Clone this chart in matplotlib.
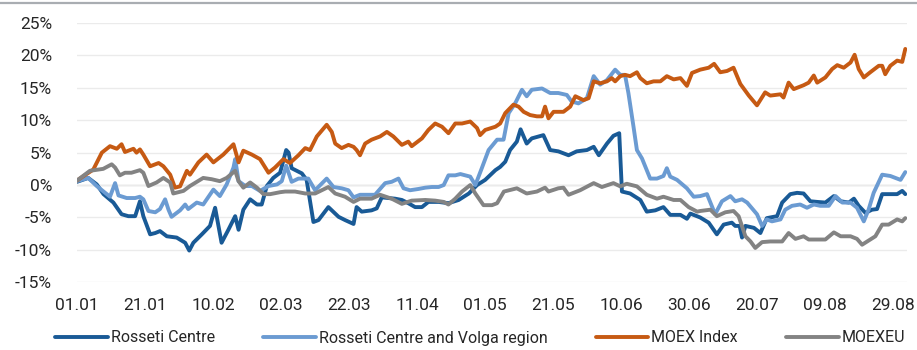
"""Rosseti Centre vs peers: cumulative price change since 01.01 (line chart)."""
import matplotlib

matplotlib.use("Agg")
import matplotlib.pyplot as plt  # noqa: E402
import matplotlib.dates as mdates  # noqa: E402
import pandas as pd  # noqa: E402
from matplotlib.lines import Line2D  # noqa: E402
from matplotlib.ticker import PercentFormatter  # noqa: E402

START = "2019-01-01"

# days since 01.01 / change in %
rc_days = [0, 3.3, 5.8, 7.8, 10.7, 13.1, 15.1, 17.1, 18.5, 19.5, 21.5, 23, 24.4, 26.4, 29.3,
           31.8, 33, 34.2, 36.7, 39.1, 40.6, 42.5, 44.5, 46.5, 47.5, 48.9, 50.9, 52.9, 54.3,
           55.8, 57.7, 59.7, 61.5, 62.2, 63.1, 66.1, 67.5, 69.5, 71, 73.9, 76.9, 78.8, 81.3,
           82.2, 83.7, 86.6, 88.1, 89.6, 93.5, 95.5, 97.4, 99.4, 101.4, 103.3, 106.3, 109.2,
           112.2, 115.2, 117.6, 120, 123, 124.4, 125.9, 127.3, 129.3, 130.4, 132.2, 133.7,
           137.1, 139.1, 141.5, 144.5, 146.9, 149.9, 151.9, 153.4, 155.8, 157.7, 159.4, 160.2,
           162.6, 165.6, 167.5, 170, 172.4, 174.4, 177.4, 179.3, 180.3, 183.2, 185.7, 188.1,
           190.1, 192.5, 193.5, 194.8, 195.5, 196.5, 199, 200.9, 202.8, 205.8, 207.3, 209.7,
           211.7, 213.6, 215.6, 217.6, 220, 222.5, 224.5, 226.9, 228.4, 229.8, 231.8, 233.7,
           235.2, 236.7, 239.1, 241.1, 242.6, 243.5]
rc_vals = [0.5, 1.1, 0.1, -1.4, -2.7, -4.5, -4.8, -4.8, -2.5, -4.8, -7.6, -7.4, -7.1, -7.9, -8.1,
           -8.9, -10.1, -8.9, -7.6, -6.3, -3.5, -8.9, -6.9, -4.8, -6.9, -3.8, -2.2, -3.0, -3.0,
           -0.15, 1.1, 1.9, 5.4, 5.0, 2.6, 1.8, 0.8, -5.7, -5.4, -3.4, -4.9, -5.4, -6.0,
           -3.4, -4.1, -3.9, -3.6, -1.9, -2.1, -2.3, -2.8, -3.4, -3.4, -2.6, -2.6, -2.8,
           -2.3, -1.3, 0.0, 0.8, 2.3, 2.8, 3.6, 5.4, 6.7, 8.6, 6.4, 7.2,
           7.7, 5.4, 5.2, 4.6, 5.2, 5.4, 5.9, 4.6, 6.4, 7.6, 8.0, -1.0,
           -1.3, -2.3, -4.1, -3.9, -3.4, -4.6, -4.6, -5.2, -4.4, -5.0, -5.8, -7.6,
           -6.1, -5.8, -6.3, -6.3, -8.1, -6.3, -6.6, -7.4, -5.1, -4.8, -2.7, -1.4,
           -1.2, -1.3, -2.5, -2.6, -2.7, -1.7, -2.5, -2.7, -2.1, -3.2, -4.3, -3.8,
           -3.7, -1.4, -1.4, -1.4, -0.9, -1.4]

rcv_days = [0, 3.3, 5.8, 9.7, 11.2, 12.2, 14.6, 17.1, 18.5, 19.5, 21, 23, 24.4, 25.9, 26.9,
            27.8, 30.3, 31.8, 32.7, 35.2, 37.1, 40.1, 42, 44, 46, 46.5, 47.5, 49.5, 51.4, 53.8,
            56.3, 58.8, 60.2, 61.5, 63.1, 65.1, 68, 70, 73.4, 75.4, 77.8, 79.8, 81.3, 83.2,
            85.7, 87.6, 90.6, 92.5, 94.5, 96, 97.9, 100.4, 102.4, 104.3, 106.3, 107.8, 109.2,
            111.2, 112.7, 115.6, 117.1, 119, 121, 123.5, 125.4, 126.9, 128.8, 130.8, 132.2,
            133.7, 136.7, 139.1, 141.5, 144, 145.4, 147.4, 149.9, 151.9, 153.8, 155.8, 158.2,
            159.7, 161.1, 162.1, 163.6, 164.6, 166.1, 168.5, 170.5, 172.4, 173.4, 174.4, 176.4,
            179.3, 181.3, 183.2, 185.2, 187.6, 189.6, 192.1, 193.5, 195.5, 197, 199.9, 201.4,
            202.8, 204.3, 206.8, 208.2, 210.2, 212.6, 214.6, 216.6, 218.5, 221, 223, 225,
            227.4, 229.3, 231.3, 232.7, 234.2, 236.7, 239.1, 242.1, 243.5]
rcv_vals = [0.6, 1.1, -0.15, -1.8, 0.3, -1.6, -2.0, -2.0, -1.8, -2.2, -4.0, -4.2, -3.7, -2.2, -3.8,
            -4.9, -3.9, -3.0, -3.7, -2.7, -3.0, -0.7, -1.7, 0.1, 2.7, 4.0, 0.6, -0.15, -0.15, -0.9,
            -0.15, 0.1, 0.6, 3.0, 0.5, 1.0, 1.0, -0.8, 1.0, -0.3, -0.5, -0.8, -1.9, -1.5,
            -1.5, -1.5, 0.3, 0.5, 1.0, -0.5, -0.8, -0.6, -0.4, -0.3, -0.3, 0.0, 1.5,
            1.5, 1.7, 1.3, 0.0, 2.6, 5.4, 7.0, 7.0, 11.1, 12.6, 14.7, 13.7,
            14.7, 14.9, 14.2, 14.2, 13.9, 12.9, 12.6, 13.4, 16.8, 15.5, 16.2, 17.8,
            17.0, 17.0, 14.2, 9.0, 5.4, 4.1, 1.0, 1.0, 1.4, 2.6, 1.3, 0.8,
            -0.5, -1.8, -1.7, -1.4, -4.5, -2.5, -1.7, -2.5, -2.2, -2.7, -4.5, -6.3,
            -5.3, -5.6, -5.3, -3.8, -3.2, -3.0, -3.5, -3.0, -3.2, -3.2, -1.7, -2.7,
            -2.7, -3.5, -5.6, -3.8, -1.2, 1.6, 1.4, 0.8, 2.0]

moex_days = [0, 4.8, 7.3, 9.7, 11.7, 13.1, 14.1, 16.6, 17.5, 18.5, 19.5, 21.5, 24, 25.4, 27.4,
             28.8, 30.3, 32.3, 33.2, 35.7, 38.1, 40.1, 43, 46, 47.5, 48.9, 51.4, 53.8, 56.3,
             58.2, 60.7, 62.6, 65.1, 67.1, 68.5, 70.5, 73.4, 74.9, 75.9, 77.8, 79.8, 81.3, 82.2,
             83.2, 84.7, 86.6, 89.1, 91.1, 93, 95.5, 97.4, 98.4, 101.4, 103.3, 105.3, 107.3,
             109.2, 111.2, 113.2, 115.6, 117.6, 118.5, 120, 123, 124.4, 125.9, 128.3, 129.8,
             131.3, 133.2, 135.2, 136.7, 137.6, 138.6, 140.1, 143, 145, 146.5, 148.9, 150.4,
             151.9, 153.8, 155.8, 157.2, 158.2, 159.7, 161.1, 162.6, 164.6, 165.6, 167.5, 169.5,
             171.5, 173.4, 175.4, 177.4, 179.3, 180.8, 183.2, 185.7, 187.3, 189.1, 191.1, 193,
             195, 197.5, 199.9, 202.3, 203.8, 206.8, 207.7, 209.2, 210.7, 213.6, 215.1, 216.6,
             217.6, 220, 222, 223.5, 225.4, 227.4, 228.6, 229.8, 231.3, 233.2, 235.7, 236.7,
             237.6, 239.1, 241.1, 242.6, 243.5]
moex_vals = [0.7, 2.4, 5.0, 6.0, 5.6, 6.3, 5.1, 5.6, 5.0, 5.5, 4.7, 2.9, 3.4, 2.9, 1.6,
             -0.4, -0.2, 2.2, 1.6, 3.5, 4.7, 3.5, 4.7, 6.3, 3.5, 5.3, 4.7, 4.0, 1.9,
             2.7, 4.0, 3.4, 4.6, 5.7, 5.4, 7.5, 9.3, 8.2, 6.4, 5.7, 6.2, 5.9, 5.4,
             4.6, 6.4, 7.0, 7.5, 8.2, 7.5, 6.2, 6.7, 6.0, 7.2, 8.5, 9.5, 9.0,
             8.0, 9.5, 9.5, 9.8, 8.8, 7.7, 8.5, 9.0, 9.5, 11.1, 12.4, 12.1,
             11.3, 10.8, 10.6, 10.6, 12.1, 10.3, 11.3, 11.3, 12.1, 13.7, 13.1, 13.4,
             16.0, 15.7, 16.0, 16.5, 16.0, 16.8, 17.0, 16.8, 17.4, 16.5, 15.7, 16.0,
             16.0, 16.8, 16.3, 16.5, 15.3, 17.3, 17.8, 18.1, 18.7, 17.4, 17.6, 18.1,
             15.6, 13.8, 12.3, 14.3, 13.8, 14.0, 13.5, 15.8, 14.8, 15.4, 15.8, 16.9,
             15.8, 16.6, 17.9, 18.5, 18.1, 18.9, 20.1, 17.9, 16.6, 17.4, 18.4, 18.4,
             17.1, 18.4, 19.2, 19.0, 21.0]

eu_days = [0, 3.8, 7.7, 10.2, 11.2, 12.6, 14.1, 16, 18.5, 19.5, 21, 23.4, 25.4, 27.4, 28.3,
           31.3, 33.2, 37.1, 39.6, 42, 44, 46.5, 47.5, 48.9, 50.9, 52.9, 54.8, 56.8, 59.7,
           61.2, 64.1, 67.1, 70, 73.9, 75.9, 78.8, 81.3, 83.2, 86.6, 89.1, 92.5, 95.5, 98.4,
           102.4, 105.3, 107.8, 109.2, 111.2, 113.2, 115.6, 117.1, 119.5, 122, 123.5, 125.5,
           129.3, 132.2, 135.2, 137.6, 138.6, 141.5, 143, 144.5, 147.9, 151.9, 154.3, 157.7,
           159.7, 161.6, 164.6, 167.5, 170.5, 172.4, 175.4, 177.4, 179.8, 182.3, 183.2, 186.2,
           188.1, 190.6, 193, 194.5, 196.5, 198, 199.4, 201.4, 203.8, 207.3, 209.2, 211.2,
           213.6, 215.1, 217.1, 220, 222.5, 224.5, 227.4, 229.3, 230.8, 233.2, 234.7, 236.7,
           238.6, 241.1, 242.6, 243.5]
eu_vals = [0.7, 2.2, 2.5, 3.2, 2.7, 1.5, 1.9, 1.9, 2.3, 1.9, -0.15, 0.4, 1.1, 0.4, -1.3,
           -0.9, -0.15, 1.1, 0.9, 0.6, 1.1, 2.2, 0.6, -0.4, 0.4, -0.4, -1.4, -1.4, -1.1,
           -1.0, -1.0, -1.3, -1.3, -0.3, -1.3, -1.8, -2.6, -2.1, -2.1, -1.5, -2.1, -2.9, -2.4,
           -2.3, -2.4, -2.6, -3.0, -2.1, -1.0, 0.0, -1.3, -3.1, -3.1, -2.8, -1.0,
           -0.5, -1.3, -1.0, -0.4, -1.0, -0.5, -0.4, -1.5, -0.8, 0.3, -0.3, 0.3,
           -0.2, 0.2, -0.2, -1.5, -2.1, -1.8, -2.3, -2.3, -3.4, -4.1, -4.0, -3.8,
           -4.8, -4.2, -4.0, -4.8, -7.9, -8.7, -9.7, -8.8, -8.7, -8.7, -7.4, -8.3,
           -7.9, -8.4, -8.4, -8.4, -7.3, -7.9, -7.9, -8.3, -9.2, -8.4, -7.9, -6.1,
           -6.1, -5.3, -5.6, -5.1]

SERIES = [
    ("Rosseti Centre", rc_days, rc_vals, "#195a96"),
    ("Rosseti Centre and Volga region", rcv_days, rcv_vals, "#6b9bd2"),
    ("MOEX Index", moex_days, moex_vals, "#c65a13"),
    ("MOEXEU", eu_days, eu_vals, "#838383"),
]

TICK_STEP_DAYS = 20
N_TICKS = 13
X_END_DAYS = 244


def _dates(days):
    return pd.Timestamp(START) + pd.to_timedelta(days, unit="D")


def main():
    plt.rcParams["font.family"] = ["Roboto", "DejaVu Sans"]
    plt.rcParams["axes.unicode_minus"] = False
    fig = plt.figure(figsize=(9.17, 3.5), dpi=100)
    ax = fig.add_axes([77 / 917, 67.7 / 350, 830 / 917, 259.3 / 350])

    handles = []
    for label, days, vals, color in SERIES:
        (ln,) = ax.plot(_dates(days), vals, color=color, lw=2.8, label=label,
                        solid_joinstyle="round", solid_capstyle="round")
        handles.append(ln)

    ax.set_ylim(-15, 25)
    ax.set_yticks(range(-15, 26, 5))
    ax.yaxis.set_major_formatter(PercentFormatter(decimals=0))
    ax.set_xlim(_dates(0), _dates(X_END_DAYS))
    ax.set_xticks(pd.date_range(START, periods=N_TICKS, freq=f"{TICK_STEP_DAYS}D"))
    ax.xaxis.set_major_formatter(mdates.DateFormatter("%d.%m"))
    ax.grid(axis="y", color="#ebebeb", lw=1)
    ax.axhline(0, color="#d9d9d9", lw=1, zorder=0.5)
    ax.set_axisbelow(True)
    for s in ax.spines.values():
        s.set_visible(False)
    ax.tick_params(length=0, labelsize=12.5, colors="#262626")
    ax.tick_params(axis="y", pad=18)
    ax.tick_params(axis="x", pad=11)

    fig.legend(handles=handles, loc="center left", bbox_to_anchor=(55 / 917, 12 / 350),
               ncol=4, frameon=False, fontsize=11.5, handlelength=3.3, handletextpad=0.2,
               columnspacing=3.0, borderpad=0, borderaxespad=0)
    for t in fig.legends[0].get_texts():
        t.set_color("#262626")

    fig.add_artist(Line2D([0, 1], [0.992, 0.992], color="#a9adb2", lw=1.6,
                          transform=fig.transFigure))
    fig.savefig("out.png", dpi=100)
    plt.close(fig)


if __name__ == "__main__":
    main()
